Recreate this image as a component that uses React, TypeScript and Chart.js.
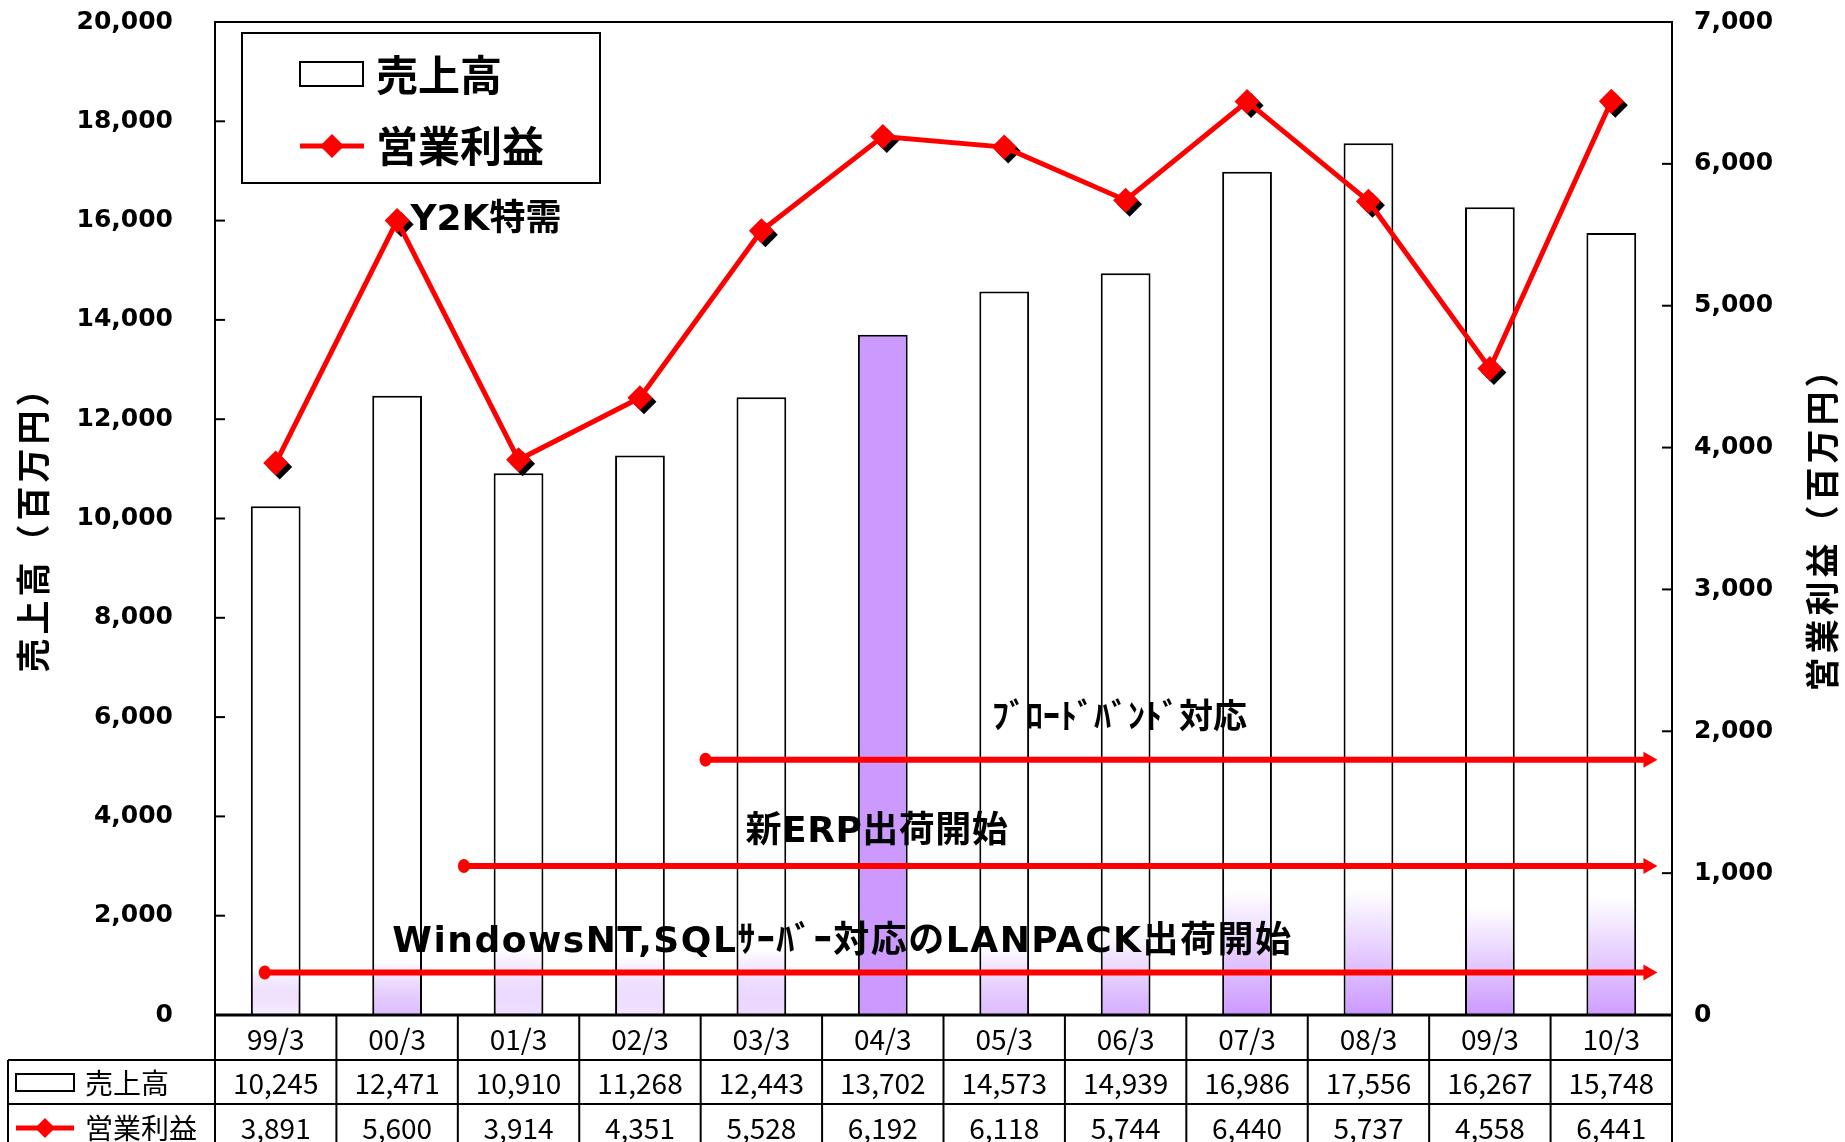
import React, { useEffect, useRef } from 'react';
import { Chart, registerables } from 'chart.js';

Chart.register(...registerables);

// ---------- data ----------
const CATEGORIES = ['99/3', '00/3', '01/3', '02/3', '03/3', '04/3', '05/3', '06/3', '07/3', '08/3', '09/3', '10/3'];
const SALES = [10245, 12471, 10910, 11268, 12443, 13702, 14573, 14939, 16986, 17556, 16267, 15748];
const PROFIT = [3891, 5600, 3914, 4351, 5528, 6192, 6118, 5744, 6440, 5737, 4558, 6441];
const SALES_LABEL = '売上高';
const PROFIT_LABEL = '営業利益';
const LEFT_TITLE = '売上高（百万円）';
const RIGHT_TITLE = '営業利益（百万円）';
const LEFT_MAX = 20000;
const LEFT_STEP = 2000;
const RIGHT_MAX = 7000;
const RIGHT_STEP = 1000;
const HIGHLIGHT_INDEX = 5;

// annotations: x in category index units, y in right-axis units
const NOTE_TEXTS = ['Y2K特需', 'ﾌﾞﾛｰﾄﾞﾊﾞﾝﾄﾞ対応', '新ERP出荷開始', 'WindowsNT,SQLｻｰﾊﾞｰ対応のLANPACK出荷開始'];
const NOTE_X = [1.11, 5.9, 3.87, 0.96];
const NOTE_Y = [5600, 2087, 1283, 508];
const ARROW_FROM = [3.54, 1.55, -0.09];
const ARROW_TO = [11.38, 11.38, 11.38];
const ARROW_Y = [1800, 1050, 300];

// ---------- styles ----------
const JP = '"Noto Sans CJK JP", "Noto Sans", sans-serif';
const WIDE = '"DejaVu Sans", "Noto Sans CJK JP", sans-serif';
const RED = '#FF0000';
const PURPLE = '#CC99FF';
const NOTE_SIZE = [36, 34, 36, 36];
const NOTE_SPACING = [0, 0, 0.5, 1.5];
// bottom glow of bars: [alpha, height px]
const BAR_GLOW: [number, number][] = [
  [0.15, 48], [0.65, 55], [0.3, 65], [0.25, 58], [0.35, 65], [1, 0],
  [0.65, 68], [0.8, 82], [1, 125], [1, 125], [1, 108], [0.95, 118],
];

const fmt = (v: number) => v.toLocaleString('en-US');

function diamond(c: CanvasRenderingContext2D, x: number, y: number, r: number, color: string) {
  c.fillStyle = color;
  c.beginPath();
  c.moveTo(x, y - r);
  c.lineTo(x + r, y);
  c.lineTo(x, y + r);
  c.lineTo(x - r, y);
  c.closePath();
  c.fill();
}

const shadowPlugin = {
  id: 'markerShadow',
  beforeDatasetDraw(chart: any, args: any) {
    if (args.meta.type !== 'line') return;
    const c = chart.ctx;
    c.save();
    for (const p of args.meta.data) {
      diamond(c, p.x + 4, p.y + 4, 12.5, '#000');
    }
    c.restore();
  },
};

const decorPlugin = {
  id: 'decor',
  afterDatasetsDraw(chart: any) {
    const c: CanvasRenderingContext2D = chart.ctx;
    const xs = chart.scales.x;
    const y1 = chart.scales.y1;
    c.save();
    // arrows
    for (let i = 0; i < ARROW_Y.length; i++) {
      const xa = xs.getPixelForValue(ARROW_FROM[i]);
      const xb = xs.getPixelForValue(ARROW_TO[i]);
      const yy = y1.getPixelForValue(ARROW_Y[i]);
      c.strokeStyle = RED;
      c.fillStyle = RED;
      c.lineWidth = 6;
      c.beginPath();
      c.moveTo(xa, yy);
      c.lineTo(xb - 10, yy);
      c.stroke();
      c.beginPath();
      c.ellipse(xa, yy, 6, 7, 0, 0, Math.PI * 2);
      c.fill();
      c.beginPath();
      c.moveTo(xb, yy);
      c.lineTo(xb - 14, yy - 8);
      c.lineTo(xb - 14, yy + 8);
      c.closePath();
      c.fill();
    }
    // annotation texts
    c.fillStyle = '#000';
    c.textAlign = 'left';
    c.textBaseline = 'middle';
    for (let i = 0; i < NOTE_TEXTS.length; i++) {
      c.font = `bold ${NOTE_SIZE[i]}px ${WIDE}`;
      (c as any).letterSpacing = `${NOTE_SPACING[i]}px`;
      c.fillText(NOTE_TEXTS[i], xs.getPixelForValue(NOTE_X[i]), y1.getPixelForValue(NOTE_Y[i]));
    }
    (c as any).letterSpacing = '0px';
    c.restore();
  },
  afterDraw(chart: any) {
    const c: CanvasRenderingContext2D = chart.ctx;
    const area = chart.chartArea;
    const xs = chart.scales.x;
    const ys = chart.scales.y;
    const y1 = chart.scales.y1;
    const W = chart.width;
    const H = chart.height;
    c.save();
    c.strokeStyle = '#000';
    c.fillStyle = '#000';

    // inward tick marks
    c.lineWidth = 2;
    for (const t of ys.ticks) {
      const yy = ys.getPixelForValue(t.value);
      c.beginPath();
      c.moveTo(area.left, yy);
      c.lineTo(area.left + 10, yy);
      c.stroke();
    }
    for (const t of y1.ticks) {
      const yy = y1.getPixelForValue(t.value);
      c.beginPath();
      c.moveTo(area.right, yy);
      c.lineTo(area.right - 10, yy);
      c.stroke();
    }
    // frame
    c.lineWidth = 2;
    c.strokeRect(area.left, area.top, area.right - area.left, area.bottom - area.top);
    c.lineWidth = 3;
    c.beginPath();
    c.moveTo(area.left, area.bottom);
    c.lineTo(area.right, area.bottom);
    c.stroke();

    // axis titles
    c.font = `bold 34px ${JP}`;
    c.textAlign = 'center';
    c.textBaseline = 'middle';
    (c as any).letterSpacing = '4px';
    const midY = (area.top + area.bottom) / 2 + 2;
    c.save();
    c.translate(33, midY);
    c.rotate(-Math.PI / 2);
    c.fillText(LEFT_TITLE, 0, 0);
    c.restore();
    c.save();
    c.translate(W - 23, midY);
    c.rotate(-Math.PI / 2);
    c.fillText(RIGHT_TITLE, 0, 0);
    c.restore();
    (c as any).letterSpacing = '0px';

    // legend box
    const lx = area.left + 27;
    const ly = area.top + 11;
    c.fillStyle = '#fff';
    c.fillRect(lx, ly, 358, 150);
    c.lineWidth = 2;
    c.strokeRect(lx, ly, 358, 150);
    c.strokeRect(lx + 58, ly + 29, 63, 24);
    c.strokeStyle = RED;
    c.lineWidth = 5;
    c.beginPath();
    c.moveTo(lx + 58, ly + 113);
    c.lineTo(lx + 122, ly + 113);
    c.stroke();
    diamond(c, lx + 90, ly + 113, 12, RED);
    c.fillStyle = '#000';
    c.font = `bold 42px ${JP}`;
    c.textAlign = 'left';
    c.fillText(SALES_LABEL, lx + 134, ly + 42);
    c.fillText(PROFIT_LABEL, lx + 134, ly + 113);

    // data table
    const rowH = 44;
    const r0 = area.bottom;
    const r1 = r0 + rowH + 1;
    const r2 = r1 + rowH;
    const r3 = r2 + rowH;
    const tl = 8;
    c.strokeStyle = '#000';
    c.lineWidth = 2;
    c.beginPath();
    c.moveTo(tl, r1); c.lineTo(area.right, r1);
    c.moveTo(tl, r2); c.lineTo(area.right, r2);
    c.moveTo(tl, r3); c.lineTo(area.right, r3);
    c.moveTo(tl, r1); c.lineTo(tl, H);
    for (let k = 0; k <= CATEGORIES.length; k++) {
      const xx = xs.getPixelForValue(k - 0.5);
      c.moveTo(xx, r0); c.lineTo(xx, H);
    }
    c.stroke();

    c.font = `28px ${JP}`;
    c.textAlign = 'center';
    c.fillStyle = '#000';
    CATEGORIES.forEach((cat, i) => {
      const cx = xs.getPixelForValue(i);
      c.fillText(cat, cx, r0 + 24);
      c.fillText(fmt(SALES[i]), cx, r1 + 23);
      c.fillText(fmt(PROFIT[i]), cx, r2 + 24);
    });
    // row headers
    c.textAlign = 'left';
    c.lineWidth = 2;
    c.strokeRect(16, r1 + 14, 58, 17);
    c.fillText(SALES_LABEL, 85, r1 + 23);
    c.strokeStyle = RED;
    c.lineWidth = 5;
    c.beginPath();
    c.moveTo(16, r2 + 24);
    c.lineTo(74, r2 + 24);
    c.stroke();
    diamond(c, 45, r2 + 24, 10, RED);
    c.fillStyle = '#000';
    c.fillText(PROFIT_LABEL, 85, r2 + 24);

    c.restore();
  },
};

export default function App() {
  const ref = useRef<HTMLCanvasElement | null>(null);

  useEffect(() => {
    if (!ref.current) return;
    const chart = new Chart(ref.current, {
      type: 'bar',
      data: {
        labels: CATEGORIES,
        datasets: [
          {
            type: 'line',
            label: PROFIT_LABEL,
            data: PROFIT,
            yAxisID: 'y1',
            borderColor: RED,
            borderWidth: 5,
            pointStyle: 'rectRot',
            pointRadius: 12.5,
            pointHoverRadius: 12.5,
            pointBackgroundColor: RED,
            pointBorderColor: RED,
            pointBorderWidth: 0,
            tension: 0,
            order: 0,
          } as any,
          {
            type: 'bar',
            label: SALES_LABEL,
            data: SALES,
            yAxisID: 'y',
            borderColor: '#000',
            borderWidth: 2,
            barPercentage: 0.41,
            categoryPercentage: 1,
            order: 1,
            backgroundColor: (ctx: any) => {
              const chart = ctx.chart;
              const idx = ctx.dataIndex;
              if (idx === HIGHLIGHT_INDEX) return PURPLE;
              if (!chart.chartArea || !chart.scales.y) return '#fff';
              const [a, h] = BAR_GLOW[idx] || [0, 0];
              const base = chart.scales.y.getPixelForValue(0);
              const g = chart.ctx.createLinearGradient(0, base, 0, base - h);
              g.addColorStop(0, `rgba(204,153,255,${a})`);
              g.addColorStop(1, 'rgba(255,255,255,1)');
              return g;
            },
          } as any,
        ],
      },
      options: {
        responsive: false,
        animation: false,
        devicePixelRatio: 1,
        layout: { padding: { top: 22, bottom: 127, left: 0, right: 0 } },
        plugins: {
          legend: { display: false },
          tooltip: { enabled: false },
        },
        font: { family: JP },
        scales: {
          x: {
            type: 'category',
            display: false,
            offset: true,
          },
          y: {
            position: 'left',
            min: 0,
            max: LEFT_MAX,
            grid: { display: false, drawTicks: false },
            border: { display: false },
            ticks: {
              stepSize: LEFT_STEP,
              padding: 42,
              color: '#000',
              font: { family: WIDE, size: 25, weight: 'bold' },
              callback: (v: any) => fmt(Number(v)),
            },
            afterFit: (s: any) => { s.width = 215; s.paddingTop = 0; s.paddingBottom = 0; },
          },
          y1: {
            position: 'right',
            min: 0,
            max: RIGHT_MAX,
            grid: { display: false, drawTicks: false },
            border: { display: false },
            ticks: {
              stepSize: RIGHT_STEP,
              padding: 22,
              color: '#000',
              font: { family: WIDE, size: 25, weight: 'bold' },
              callback: (v: any) => fmt(Number(v)),
            },
            afterFit: (s: any) => { s.width = 173; s.paddingTop = 0; s.paddingBottom = 0; },
          },
        },
      } as any,
      plugins: [shadowPlugin, decorPlugin],
    });
    return () => chart.destroy();
  }, []);

  return (
    <div style={{ position: 'absolute', left: 0, top: 0, width: 1845, height: 1142, background: '#fff', overflow: 'hidden' }}>
      <canvas ref={ref} width={1845} height={1142} style={{ display: 'block', width: 1845, height: 1142 }} />
    </div>
  );
}
